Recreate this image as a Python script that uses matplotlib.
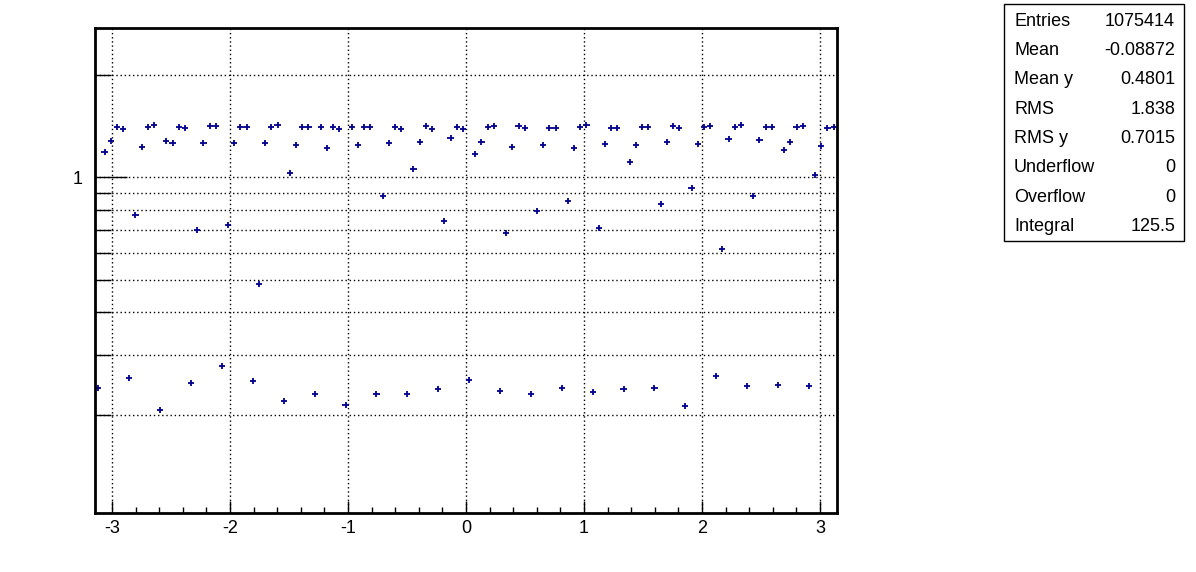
import numpy as np
import matplotlib
matplotlib.use("Agg")
import matplotlib.pyplot as plt
from matplotlib.ticker import (LogLocator, NullFormatter, FixedLocator, MultipleLocator,
                               FixedFormatter, FuncFormatter)
from matplotlib.patches import Rectangle

plt.rcParams['font.family'] = ['Liberation Sans', 'DejaVu Sans']

# ---- data ----
n_bins = 120
x_min, x_max = -np.pi, np.pi
profile_values = [
    0.2395, 1.189, 1.276, 1.406, 1.387, 0.2568, 0.776, 1.225, 1.406, 1.422,
    0.2064, 1.276, 1.259, 1.406, 1.396, 0.2478, 0.700, 1.259, 1.415, 1.415,
    0.278, 0.724, 1.261, 1.406, 1.406, 0.2518, 0.484, 1.259, 1.403, 1.425,
    0.2198, 1.032, 1.247, 1.406, 1.406, 0.2305, 1.406, 1.217, 1.403, 1.390,
    0.214, 1.406, 1.242, 1.403, 1.403, 0.231, 0.879, 1.259, 1.406, 1.384,
    0.2305, 1.058, 1.270, 1.413, 1.384, 0.2384, 0.744, 1.302, 1.403, 1.387,
    0.2529, 1.171, 1.268, 1.403, 1.418, 0.2357, 0.687, 1.230, 1.413, 1.396,
    0.230, 0.794, 1.245, 1.399, 1.399, 0.240, 0.852, 1.217, 1.403, 1.422,
    0.2332, 0.711, 1.256, 1.399, 1.399, 0.2379, 1.107, 1.242, 1.403, 1.406,
    0.2395, 0.833, 1.268, 1.413, 1.399, 0.2121, 0.928, 1.253, 1.406, 1.413,
    0.2609, 0.614, 1.294, 1.403, 1.428, 0.2428, 0.883, 1.285, 1.406, 1.406,
    0.2445, 1.200, 1.270, 1.403, 1.418, 0.2428, 1.016, 1.236, 1.399, 1.406,
]
y_range = (0.1028, 2.75)
x_tick_values = [-3, -2, -1, 0, 1, 2, 3]
x_tick_labels = ["-3", "-2", "-1", "0", "1", "2", "3"]
stats_names = ["Entries", "Mean", "Mean y", "RMS", "RMS y", "Underflow", "Overflow", "Integral"]
stats_values = ["1075414", "-0.08872", "0.4801", "1.838", "0.7015", "0", "0", "125.5"]

# ---- figure ----
W, H = 1196, 572
fig = plt.figure(figsize=(W / 100, H / 100), dpi=100)
ax = fig.add_axes([95.3 / W, 1 - 513 / H, (836.7 - 95.3) / W, (513 - 28) / H])

edges = np.linspace(x_min, x_max, n_bins + 1)
centers = 0.5 * (edges[:-1] + edges[1:])
half = 0.5 * (edges[1] - edges[0])
col = '#00008B'
ax.errorbar(centers, profile_values, xerr=half, fmt='none', ecolor=col, elinewidth=1.3, capsize=0)
ax.plot(centers, profile_values, ls='none', marker='|', ms=4, mew=1.3, color=col)

ax.set_xlim(x_min, x_max)
ax.set_yscale('log')
ax.set_ylim(*y_range)

ax.xaxis.set_major_locator(FixedLocator(x_tick_values))
ax.xaxis.set_major_formatter(FixedFormatter(x_tick_labels))
ax.xaxis.set_minor_locator(MultipleLocator(0.2))
ax.yaxis.set_major_locator(LogLocator(base=10))
ax.yaxis.set_major_formatter(FuncFormatter(lambda v, p: f"{v:g}"))
ax.yaxis.set_minor_locator(LogLocator(base=10, subs=np.arange(2, 10)))
ax.yaxis.set_minor_formatter(NullFormatter())

ax.tick_params(axis='x', which='major', direction='in', length=9, width=1, labelsize=13, pad=5,
               top=False)
ax.tick_params(axis='x', which='minor', direction='in', length=4.5, width=1, top=False)
ax.tick_params(axis='y', which='major', direction='in', length=23, width=1, labelsize=13, pad=9,
               right=False)
ax.tick_params(axis='y', which='minor', direction='in', length=11.5, width=1, right=False)

grid_style = dict(color='black', linestyle=(0, (1, 2)), linewidth=1.0)
ax.xaxis.grid(True, which='major', **grid_style)
ax.yaxis.grid(True, which='major', **grid_style)
ax.yaxis.grid(True, which='minor', **grid_style)
ax.set_axisbelow(True)

for s in ax.spines.values():
    s.set_linewidth(2)

# ---- stats box ----
bx0, bx1, by0, by1 = 1004, 1184, 4, 241
fig.patches.append(Rectangle((bx0 / W, 1 - by1 / H), (bx1 - bx0) / W, (by1 - by0) / H,
                             transform=fig.transFigure, facecolor='white', edgecolor='black',
                             linewidth=1))
for i, (n, v) in enumerate(zip(stats_names, stats_values)):
    yy = 21 + i * 29.4
    fig.text(1014 / W, 1 - yy / H, n, ha='left', va='center', fontsize=13)
    fig.text(1175 / W, 1 - yy / H, v, ha='right', va='center', fontsize=13)

fig.savefig('out.png', dpi=100)
